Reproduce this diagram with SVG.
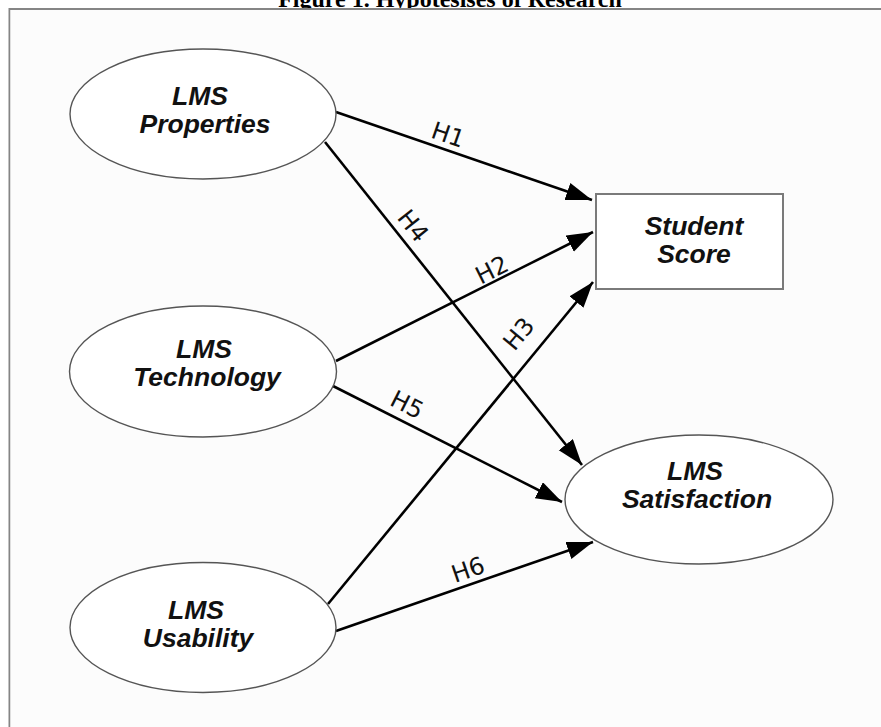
<svg xmlns="http://www.w3.org/2000/svg" width="881" height="727" viewBox="0 0 881 727">
<style>
.title{font-family:"Liberation Serif","Times New Roman",serif;font-weight:bold;font-size:24px;fill:#000}
.node{fill:#fff;stroke:#555;stroke-width:1.4}
.box{fill:#fff;stroke:#7a7a7a;stroke-width:2}
.nt{font-family:"Liberation Sans",Arial,sans-serif;font-weight:bold;font-style:italic;font-size:26.5px;fill:#111;text-anchor:middle}
.edge{stroke:#000;stroke-width:2.6;fill:none;marker-end:url(#arr)}
.lbl{font-family:"DejaVu Sans","Liberation Sans",sans-serif;font-size:24px;fill:#111;text-anchor:middle;dominant-baseline:central}
</style>
<defs>
<marker id="arr" markerUnits="userSpaceOnUse" markerWidth="28" markerHeight="20" refX="26" refY="9" orient="auto">
<path d="M0,0 L26,9 L0,18 z" fill="#000"/>
</marker>
</defs>
<rect x="0" y="0" width="881" height="727" fill="#fff"/>
<text class="title" x="450" y="7" text-anchor="middle">Figure 1. Hypotesises of Research</text>
<path d="M9.5,727 L9.5,9 L881,9" fill="#fcfcfc" stroke="#858585" stroke-width="2"/>
<rect x="10.5" y="10" width="871" height="717" fill="#fcfcfc"/>

<g id="connectors">
<line class="edge" x1="336" y1="112" x2="592" y2="200"/>
<line class="edge" x1="325" y1="142" x2="582" y2="465"/>
<line class="edge" x1="336" y1="361" x2="593" y2="232"/>
<line class="edge" x1="333" y1="386" x2="562" y2="502"/>
<line class="edge" x1="328" y1="604" x2="593" y2="282"/>
<line class="edge" x1="336" y1="631" x2="593" y2="542"/>
<text class="lbl" transform="translate(448,135) rotate(19)">H1</text>
<text class="lbl" transform="translate(413,226) rotate(51.5)">H4</text>
<text class="lbl" transform="translate(492,270) rotate(-26.7)">H2</text>
<text class="lbl" transform="translate(519,334) rotate(-50.5)">H3</text>
<text class="lbl" transform="translate(407,405) rotate(26.9)">H5</text>
<text class="lbl" transform="translate(468,570) rotate(-19.1)">H6</text>
</g>

<g id="lms-properties">
<ellipse class="node" cx="203" cy="114" rx="133" ry="65"/>
<text class="nt" x="200" y="105">LMS</text>
<text class="nt" x="205" y="133">Properties</text>
</g>
<g id="lms-technology">
<ellipse class="node" cx="203" cy="371.5" rx="133.5" ry="65.5"/>
<text class="nt" x="204" y="358">LMS</text>
<text class="nt" x="207" y="386">Technology</text>
</g>
<g id="lms-usability">
<ellipse class="node" cx="203" cy="627.5" rx="133" ry="65"/>
<text class="nt" x="196" y="619">LMS</text>
<text class="nt" x="198" y="647">Usability</text>
</g>
<g id="student-score">
<rect class="box" x="596" y="194" width="187" height="95"/>
<text class="nt" x="694" y="235">Student</text>
<text class="nt" x="694" y="263">Score</text>
</g>
<g id="lms-satisfaction">
<ellipse class="node" cx="699" cy="499.5" rx="134" ry="64.5"/>
<text class="nt" x="695" y="480">LMS</text>
<text class="nt" x="697" y="508">Satisfaction</text>
</g>
</svg>
